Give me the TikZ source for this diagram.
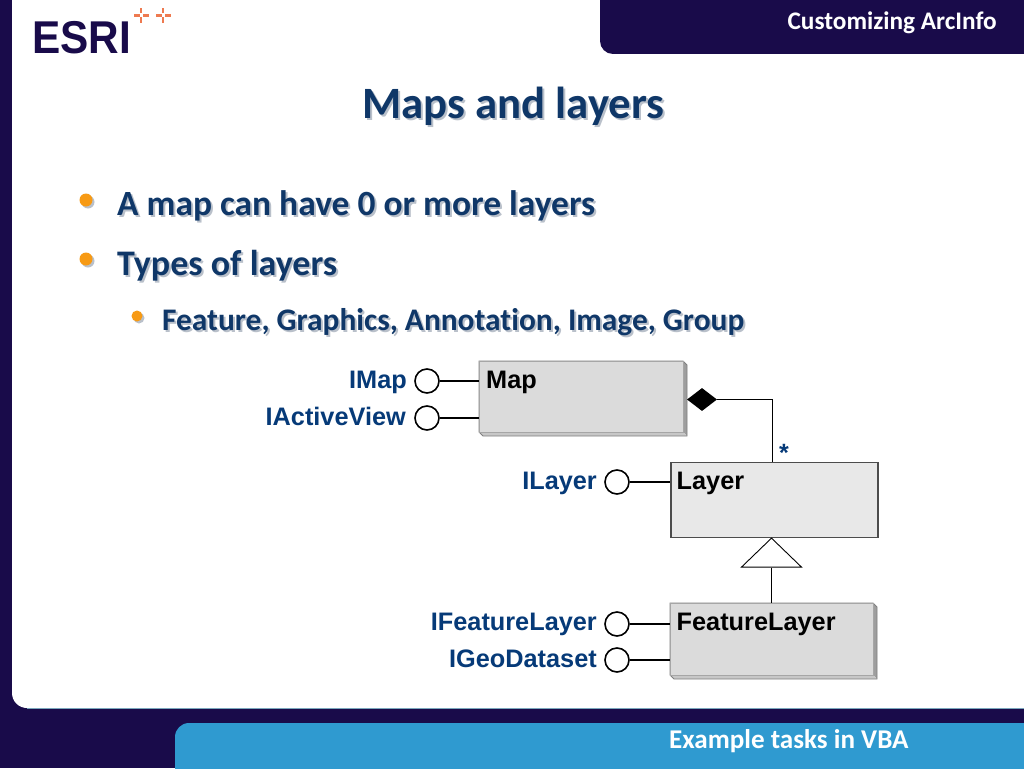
\documentclass[tikz,border=0pt]{standalone}
\usepackage{fontspec}
\setmainfont{Carlito}[BoldFont={Carlito Bold},Ligatures=NoCommon]
\newfontfamily\arialfont{Liberation Sans}
\usetikzlibrary{shapes.geometric}
\definecolor{navy}{HTML}{190B4A}
\definecolor{tabblue}{HTML}{2F9AD0}
\definecolor{inktext}{HTML}{0F3768}
\definecolor{shadowgrey}{HTML}{B9C0CA}
\definecolor{bulletorange}{HTML}{F79A14}
\definecolor{logoorange}{HTML}{EE7A50}
\definecolor{labelblue}{HTML}{063A78}
\tikzset{
  x=1pt,y=-1pt,
  slidetext/.style={inner sep=0pt,anchor=base west,font=\bfseries,text=inktext},
  slideshadow/.style={inner sep=0pt,anchor=base west,font=\bfseries,text=shadowgrey},
  boxtitle/.style={inner sep=0pt,anchor=base west,font=\arialfont\bfseries\fontsize{25.3}{25.3}\selectfont,text=black},
  ifacelabel/.style={inner sep=0pt,anchor=base east,font=\arialfont\bfseries\fontsize{25.3}{25.3}\selectfont,text=labelblue},
  lolli/.style={circle,draw=black,line width=1.6pt,fill=white,minimum size=24pt,inner sep=0pt},
  stem/.style={draw=black,line width=1.7pt},
  thinline/.style={draw=black,line width=0.9pt},
  plainbox/.style={rectangle,draw=black!70,line width=1.5pt,fill=black!9,inner sep=0pt,anchor=north west},
  bevelbox/.style={rectangle,draw=black!35,line width=1pt,fill=black!14,inner sep=0pt,anchor=north west},
  bullet/.style={circle,fill=bulletorange,inner sep=0pt},
  bulletshadow/.style={circle,fill=shadowgrey,inner sep=0pt},
}
\newcommand{\bevel}[4]{% x1 y1 x2 y2 outer
  \fill[black!38] (#3-4,#2) -- (#3,#2+4) -- (#3,#4) -- (#3-4,#4-4) -- cycle;
  \fill[black!22] (#1,#4-4) -- (#3-4,#4-4) -- (#3,#4) -- (#1+4,#4) -- cycle;
  \draw[black!50,line width=0.8pt] (#1,#2) -- (#3-4,#2) -- (#3,#2+4) -- (#3,#4) -- (#1+4,#4) -- (#1,#4-4) -- cycle;
}
\begin{document}
\begin{tikzpicture}
\useasboundingbox (0,0) rectangle (1024,768);
% frame
\fill[navy] (0,0) rectangle (1024,768);
\fill[white,rounded corners=15pt] (12,-40) -- (12,708) -- (1064,708) -- (1064,-40) -- cycle;
\draw[black!30!tabblue!60,line width=1pt] (27,708.5) -- (1024,708.5);
\fill[navy,rounded corners=13pt] (1064,-30) -- (600,-30) -- (600,54) -- (1064,54) -- cycle;
\fill[tabblue,rounded corners=14pt] (1064,800) -- (175,800) -- (175,723) -- (1064,723) -- cycle;
% logo
\node[inner sep=0pt,anchor=base west,text=navy,font=\arialfont\bfseries\fontsize{46}{46}\selectfont,xscale=0.92] (logo) at (32,53) {ESRI};
\foreach \px in {141,163} {
  \fill[logoorange] (\px-7.5,13.8) rectangle (\px-1.5,16.6);
  \fill[logoorange] (\px+1.5,13.8) rectangle (\px+7.5,16.6);
  \fill[logoorange] (\px-1.4,8) rectangle (\px+1.4,13);
  \fill[logoorange] (\px-1.4,17.5) rectangle (\px+1.4,23);
}
% header / footer
\node[inner sep=0pt,anchor=base east,text=white,font=\bfseries\fontsize{25.3}{25.3}\selectfont] (hdr) at (997,30) {Customizing ArcInfo};
\node[inner sep=0pt,anchor=base west,text=white,font=\bfseries\fontsize{27.1}{27.1}\selectfont] (ftr) at (669,748) {Example tasks in VBA};
% title
\node[slideshadow,font=\bfseries\fontsize{44.8}{44.8}\selectfont] (titleS) at (364,120) {Maps and layers};
\node[slidetext,font=\bfseries\fontsize{44.8}{44.8}\selectfont] (title) at (362,118) {Maps and layers};
% bullets
\node[bulletshadow,minimum size=13pt] (b1S) at (88,202) {};
\node[bullet,minimum size=13pt] (b1) at (86,200) {};
\node[slideshadow,font=\bfseries\fontsize{35.45}{35.45}\selectfont] (t1S) at (119,217) {A map can have 0 or more layers};
\node[slidetext,font=\bfseries\fontsize{35.45}{35.45}\selectfont] (t1) at (117,215) {A map can have 0 or more layers};
\node[bulletshadow,minimum size=13pt] (b2S) at (88,261) {};
\node[bullet,minimum size=13pt] (b2) at (86,259) {};
\node[slideshadow,font=\bfseries\fontsize{36}{36}\selectfont] (t2S) at (119,277) {Types of layers};
\node[slidetext,font=\bfseries\fontsize{36}{36}\selectfont] (t2) at (117,275) {Types of layers};
\node[bulletshadow,minimum size=11pt] (b3S) at (139,318) {};
\node[bullet,minimum size=11pt] (b3) at (137,316) {};
\node[slideshadow,font=\bfseries\fontsize{31.4}{31.4}\selectfont] (t3S) at (164,332) {Feature, Graphics, Annotation, Image, Group};
\node[slidetext,font=\bfseries\fontsize{31.4}{31.4}\selectfont] (t3) at (162,330) {Feature, Graphics, Annotation, Image, Group};
% boxes
\bevel{479}{361}{687}{436}
\node[bevelbox,minimum width=204pt,minimum height=71pt] (map) at (479,361) {};
\node[plainbox,minimum width=207pt,minimum height=75pt] (layer) at (670,461.5) {};
\bevel{670}{603}{877}{679}
\node[bevelbox,minimum width=203pt,minimum height=72pt] (flayer) at (670,603) {};
\node[boxtitle] (mapT) at (486,388.5) {Map};
\node[boxtitle] (layerT) at (676.5,489.5) {Layer};
\node[boxtitle] (flayerT) at (676.5,630.5) {FeatureLayer};
% lollipops
\node[lolli] (l1) at (427,381) {};
\node[lolli] (l2) at (427,418) {};
\node[lolli] (l3) at (617,482) {};
\node[lolli] (l4) at (617,624) {};
\node[lolli] (l5) at (617,660) {};
\coordinate (m1) at (479,381); \coordinate (m2) at (479,418);
\coordinate (m3) at (670,482); \coordinate (m4) at (670,624); \coordinate (m5) at (670,660);
\draw[stem] (l1) -- (m1);
\draw[stem] (l2) -- (m2);
\draw[stem] (l3) -- (m3);
\draw[stem] (l4) -- (m4);
\draw[stem] (l5) -- (m5);
\node[ifacelabel] (i1) at (407,388.5) {IMap};
\node[ifacelabel] (i2) at (406,425.5) {IActiveView};
\node[ifacelabel] (i3) at (597,489.5) {ILayer};
\node[ifacelabel] (i4) at (597,630.5) {IFeatureLayer};
\node[ifacelabel] (i5) at (597,667.5) {IGeoDataset};
% composition
\node[diamond,fill=black,minimum width=30pt,minimum height=23pt,inner sep=0pt] (dia) at (702,399.5) {};
\coordinate (bend) at (772,399.5);
\coordinate (ltop) at (772,461.5);
\draw[thinline] (dia.east) -- (bend) -- (ltop);
\node[inner sep=0pt,anchor=base,text=labelblue,font=\arialfont\bfseries\fontsize{25}{25}\selectfont] (star) at (784,461) {*};
% inheritance
\node[isosceles triangle,isosceles triangle apex angle=92,shape border rotate=90,draw=black,line width=0.9pt,fill=white,inner sep=0pt,minimum height=29pt,minimum width=60pt,anchor=apex] (tri) at (771.5,537.5) {};
\coordinate (ftop) at (771.5,603);
\draw[thinline] (tri.south) -- (ftop);
\end{tikzpicture}
\end{document}
